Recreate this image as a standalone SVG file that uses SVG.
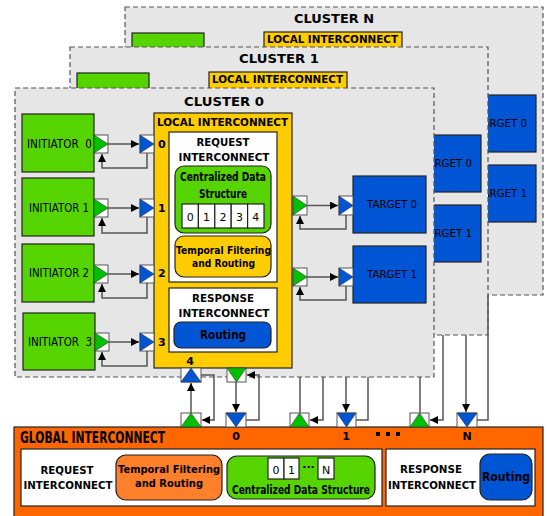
<svg xmlns="http://www.w3.org/2000/svg" width="547" height="516" viewBox="0 0 547 516">
<defs>
<marker id="ah" markerUnits="userSpaceOnUse" markerWidth="9" markerHeight="9" refX="8" refY="4" orient="auto"><path d="M0,0 L8,4 L0,8 z" fill="#000"/></marker>
<style>
text{font-family:"DejaVu Sans","Liberation Sans",sans-serif;fill:#000}
.b{font-weight:bold}
.c{text-anchor:middle}
.cl{fill:#e6e6e6;stroke:#555;stroke-width:1.2;stroke-dasharray:5,3}
.gr{fill:#55d400;stroke:#222;stroke-width:1.2}
.bl{fill:#0055d4;stroke:#222;stroke-width:1.2}
.ye{fill:#ffcc00;stroke:#222;stroke-width:1.2}
.wh{fill:#fff;stroke:#222;stroke-width:1.2}
.pb{fill:#fff;stroke:#555;stroke-width:1}
.tg{fill:#00c000;stroke:#333;stroke-width:0.6}
.tb{fill:#0055d4;stroke:#333;stroke-width:0.6}
.ln{fill:none;stroke:#555;stroke-width:1.5}
.la{fill:none;stroke:#555;stroke-width:1.5;marker-end:url(#ah)}
</style>
</defs>

<g id="cluster-n" transform="translate(110,-81)">
<rect class="cl" x="15" y="88" width="418" height="288"/>
<text class="b c" x="224" y="104" font-size="13" textLength="80" lengthAdjust="spacingAndGlyphs">CLUSTER N</text>
<rect class="gr" x="22" y="114" width="72" height="58"/>
<rect class="ye" x="154" y="113" width="138" height="255"/>
<text class="b" x="157" y="124" font-size="10.5" textLength="131" lengthAdjust="spacingAndGlyphs">LOCAL INTERCONNECT</text>
<rect class="bl" x="353" y="176" width="73" height="57"/>
<text class="c" x="392" y="208" font-size="11" textLength="50" lengthAdjust="spacingAndGlyphs">TARGET 0</text>
<rect class="bl" x="353" y="246" width="73" height="57"/>
<text class="c" x="392" y="278" font-size="11" textLength="50" lengthAdjust="spacingAndGlyphs">TARGET 1</text>
</g>

<g id="cluster-1" transform="translate(55,-41)">
<rect class="cl" x="15" y="88" width="418" height="288"/>
<text class="b c" x="224" y="104" font-size="13" textLength="80" lengthAdjust="spacingAndGlyphs">CLUSTER 1</text>
<rect class="gr" x="22" y="114" width="72" height="58"/>
<rect class="ye" x="154" y="113" width="138" height="255"/>
<text class="b" x="157" y="124" font-size="10.5" textLength="131" lengthAdjust="spacingAndGlyphs">LOCAL INTERCONNECT</text>
<rect class="bl" x="353" y="176" width="73" height="57"/>
<text class="c" x="392" y="208" font-size="11" textLength="50" lengthAdjust="spacingAndGlyphs">TARGET 0</text>
<rect class="bl" x="353" y="246" width="73" height="57"/>
<text class="c" x="392" y="278" font-size="11" textLength="50" lengthAdjust="spacingAndGlyphs">TARGET 1</text>
</g>

<g id="cluster-0">
<rect class="cl" x="15" y="88" width="419" height="289"/>
<text class="b c" x="224" y="106" font-size="13" textLength="80" lengthAdjust="spacingAndGlyphs">CLUSTER 0</text>
</g>

<g id="initiator-0">
<rect class="gr" x="22" y="114" width="72" height="58"/>
<text x="27" y="148" font-size="12" textLength="65" lengthAdjust="spacingAndGlyphs" xml:space="preserve">INITIATOR  0</text>
</g>
<g id="initiator-1">
<rect class="gr" x="22" y="178" width="72" height="58"/>
<text x="29" y="212" font-size="12" textLength="60" lengthAdjust="spacingAndGlyphs">INITIATOR 1</text>
</g>
<g id="initiator-2">
<rect class="gr" x="22" y="244" width="72" height="58"/>
<text x="29" y="277" font-size="12" textLength="60" lengthAdjust="spacingAndGlyphs">INITIATOR 2</text>
</g>
<g id="initiator-3">
<rect class="gr" x="23" y="313" width="72" height="57"/>
<text x="28" y="346" font-size="12" textLength="64" lengthAdjust="spacingAndGlyphs" xml:space="preserve">INITIATOR  3</text>
</g>

<g id="local-interconnect-0">
<rect class="ye" x="154" y="113" width="138" height="255"/>
<text class="b" x="157" y="126" font-size="10.5" textLength="131" lengthAdjust="spacingAndGlyphs">LOCAL INTERCONNECT</text>
<text class="b" x="158" y="148" font-size="11">0</text>
<text class="b" x="158" y="212" font-size="11">1</text>
<text class="b" x="158" y="277" font-size="11">2</text>
<text class="b" x="158" y="346" font-size="11">3</text>
<text class="b c" x="190" y="365" font-size="11">4</text>
<rect class="wh" x="169" y="132" width="108" height="150"/>
<text class="b c" x="223" y="146" font-size="10.5" textLength="53" lengthAdjust="spacingAndGlyphs">REQUEST</text>
<text class="b c" x="224" y="161" font-size="10.5" textLength="91" lengthAdjust="spacingAndGlyphs">INTERCONNECT</text>
<rect class="gr" x="175" y="166" width="96" height="67" rx="9"/>
<text class="b c" x="223" y="181" font-size="12" textLength="86" lengthAdjust="spacingAndGlyphs">Centralized Data</text>
<text class="b c" x="223" y="198" font-size="12" textLength="48" lengthAdjust="spacingAndGlyphs">Structure</text>
<rect class="wh" x="182" y="204" width="16.4" height="24" stroke-width="1"/>
<rect class="wh" x="198.4" y="204" width="16.4" height="24" stroke-width="1"/>
<rect class="wh" x="214.8" y="204" width="16.4" height="24" stroke-width="1"/>
<rect class="wh" x="231.2" y="204" width="16.4" height="24" stroke-width="1"/>
<rect class="wh" x="247.6" y="204" width="16.4" height="24" stroke-width="1"/>
<text class="c" x="190.2" y="221" font-size="11">0</text>
<text class="c" x="206.6" y="221" font-size="11">1</text>
<text class="c" x="223" y="221" font-size="11">2</text>
<text class="c" x="239.4" y="221" font-size="11">3</text>
<text class="c" x="255.8" y="221" font-size="11">4</text>
<rect class="ye" x="175" y="236" width="96" height="41" rx="9"/>
<text class="b c" x="223.5" y="254" font-size="10.5" textLength="95" lengthAdjust="spacingAndGlyphs">Temporal Filtering</text>
<text class="b c" x="223.5" y="267" font-size="10.5" textLength="63" lengthAdjust="spacingAndGlyphs">and Routing</text>
<rect class="wh" x="169" y="288" width="108" height="64"/>
<text class="b c" x="223" y="302" font-size="10.5" textLength="62" lengthAdjust="spacingAndGlyphs">RESPONSE</text>
<text class="b c" x="224" y="317" font-size="10.5" textLength="91" lengthAdjust="spacingAndGlyphs">INTERCONNECT</text>
<rect class="bl" x="174" y="322" width="97" height="26" rx="7"/>
<text class="b c" x="223" y="339" font-size="12" textLength="46" lengthAdjust="spacingAndGlyphs">Routing</text>
</g>

<g id="target-0">
<rect class="bl" x="353" y="176" width="73" height="57"/>
<text class="c" x="392" y="208" font-size="11" textLength="50" lengthAdjust="spacingAndGlyphs">TARGET 0</text>
</g>
<g id="target-1">
<rect class="bl" x="353" y="246" width="73" height="57"/>
<text class="c" x="392" y="278" font-size="11" textLength="50" lengthAdjust="spacingAndGlyphs">TARGET 1</text>
</g>

<g id="global-interconnect">
<rect fill="#ff6600" stroke="#222" stroke-width="1.2" x="14" y="427" width="529" height="95"/>
<text class="b" x="20" y="443" font-size="15" textLength="145" lengthAdjust="spacingAndGlyphs">GLOBAL INTERCONNECT</text>
<text class="b c" x="236" y="440" font-size="11">0</text>
<text class="b c" x="346" y="440" font-size="11">1</text>
<text class="b c" x="467" y="440" font-size="11">N</text>
<rect x="376" y="432" width="4" height="4" fill="#000"/>
<rect x="386" y="432" width="4" height="4" fill="#000"/>
<rect x="396" y="432" width="4" height="4" fill="#000"/>
<rect class="wh" x="21" y="449" width="361" height="57"/>
<text class="b c" x="67" y="474" font-size="10.5" textLength="53" lengthAdjust="spacingAndGlyphs">REQUEST</text>
<text class="b c" x="68" y="489" font-size="10.5" textLength="89" lengthAdjust="spacingAndGlyphs">INTERCONNECT</text>
<rect fill="#ff7f2a" stroke="#222" stroke-width="1.2" x="116" y="455" width="106" height="45" rx="10"/>
<text class="b c" x="169" y="473" font-size="10.5" textLength="102" lengthAdjust="spacingAndGlyphs">Temporal Filtering</text>
<text class="b c" x="169" y="487" font-size="10.5" textLength="68" lengthAdjust="spacingAndGlyphs">and Routing</text>
<rect class="gr" x="227" y="456" width="148" height="43" rx="10"/>
<rect class="wh" x="268" y="458" width="16" height="21" stroke-width="1"/>
<rect class="wh" x="284" y="458" width="15" height="21" stroke-width="1"/>
<rect class="wh" x="318" y="458" width="16" height="21" stroke-width="1"/>
<text class="c" x="276" y="474" font-size="11">0</text>
<text class="c" x="291.5" y="474" font-size="11">1</text>
<text class="c" x="326" y="474" font-size="11">N</text>
<text class="b c" x="308.5" y="471" font-size="11">···</text>
<text class="b c" transform="translate(301,494) scale(0.73,1)" x="0" y="0" font-size="12.5">Centralized Data Structure</text>
<rect class="wh" x="386" y="449" width="149" height="57"/>
<text class="b c" x="431" y="473" font-size="10" textLength="62" lengthAdjust="spacingAndGlyphs">RESPONSE</text>
<text class="b c" x="432" y="489" font-size="10" textLength="88" lengthAdjust="spacingAndGlyphs">INTERCONNECT</text>
<rect class="bl" x="480" y="454" width="52" height="46" rx="10"/>
<text class="b c" x="506" y="481" font-size="12" textLength="48" lengthAdjust="spacingAndGlyphs">Routing</text>
</g>

<g id="connectors">
<path class="la" d="M108,144 H139"/>
<path class="la" d="M147,153 V168 H102 V154"/>
<path class="la" d="M108,208 H139"/>
<path class="la" d="M147,217 V233 H102 V218"/>
<path class="la" d="M108,274 H139"/>
<path class="la" d="M147,283 V298 H102 V284"/>
<path class="la" d="M109,342 H139"/>
<path class="la" d="M147,351 V366 H102 V352"/>
<path class="la" d="M307,205.5 H338"/>
<path class="la" d="M346,215 V229 H300 V216"/>
<path class="la" d="M307,277 H338"/>
<path class="la" d="M346,286 V300 H300 V287"/>
<path class="la" d="M191,413 V383"/>
<path class="la" d="M201,375 H214 V420 H202"/>
<path class="la" d="M236,382 V412"/>
<path class="la" d="M246,420 H259 V375 H247"/>
<path class="ln" d="M300,413 V377"/>
<path class="la" d="M323,377 V420 H310"/>
<path class="la" d="M346,377 V412"/>
<path class="ln" d="M356,420 H368 V377"/>
<path class="ln" d="M420,413 V377"/>
<path class="la" d="M443,335 V420 H430"/>
<path class="la" d="M466,335 V412"/>
<path class="ln" d="M477,420 H488 V295"/>
</g>

<g id="ports">
<rect class="pb" x="94" y="135" width="14" height="18"/><path class="tg" d="M94,135 L108,144 L94,153 z"/>
<rect class="pb" x="140" y="135" width="14" height="18"/><path class="tb" d="M140,135 L154,144 L140,153 z"/>
<rect class="pb" x="94" y="199" width="14" height="18"/><path class="tg" d="M94,199 L108,208 L94,217 z"/>
<rect class="pb" x="140" y="199" width="14" height="18"/><path class="tb" d="M140,199 L154,208 L140,217 z"/>
<rect class="pb" x="94" y="265" width="14" height="18"/><path class="tg" d="M94,265 L108,274 L94,283 z"/>
<rect class="pb" x="140" y="265" width="14" height="18"/><path class="tb" d="M140,265 L154,274 L140,283 z"/>
<rect class="pb" x="95" y="333" width="14" height="18"/><path class="tg" d="M95,333 L109,342 L95,351 z"/>
<rect class="pb" x="140" y="333" width="14" height="18"/><path class="tb" d="M140,333 L154,342 L140,351 z"/>
<rect class="pb" x="293" y="196" width="14" height="19"/><path class="tg" d="M293,196 L307,205.5 L293,215 z"/>
<rect class="pb" x="339" y="196" width="14" height="19"/><path class="tb" d="M339,196 L353,205.5 L339,215 z"/>
<rect class="pb" x="293" y="268" width="14" height="18"/><path class="tg" d="M293,268 L307,277 L293,286 z"/>
<rect class="pb" x="339" y="268" width="14" height="18"/><path class="tb" d="M339,268 L353,277 L339,286 z"/>
<rect class="pb" x="181" y="368" width="20" height="14"/><path class="tb" d="M181,382 L191,368 L201,382 z"/>
<rect class="pb" x="227" y="368" width="19" height="14"/><path class="tg" d="M227,368 L246,368 L236.5,382 z"/>
<rect class="pb" x="181" y="413" width="20" height="14"/><path class="tg" d="M181,427 L191,413 L201,427 z"/>
<rect class="pb" x="226" y="413" width="20" height="14"/><path class="tb" d="M226,413 L246,413 L236,427 z"/>
<rect class="pb" x="290" y="413" width="19" height="14"/><path class="tg" d="M290,427 L299.5,413 L309,427 z"/>
<rect class="pb" x="337" y="413" width="19" height="14"/><path class="tb" d="M337,413 L356,413 L346.5,427 z"/>
<rect class="pb" x="410" y="413" width="19" height="14"/><path class="tg" d="M410,427 L419.5,413 L429,427 z"/>
<rect class="pb" x="457" y="413" width="20" height="14"/><path class="tb" d="M457,413 L477,413 L467,427 z"/>
</g>
</svg>
